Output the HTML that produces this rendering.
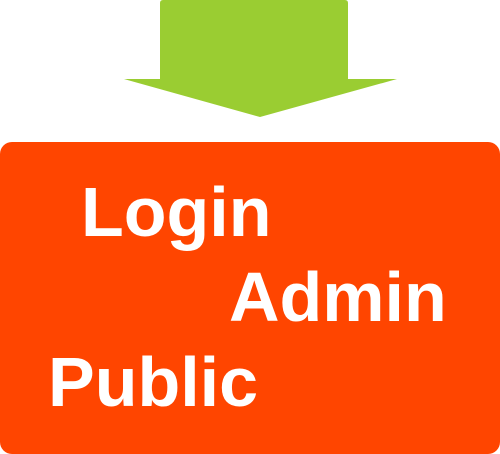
<!DOCTYPE html>
<html><head><style>
body{margin:0;width:500px;height:454px;overflow:hidden;background:#fff;position:relative;font-family:"Liberation Sans",sans-serif}
.box{position:absolute;left:0;top:142px;width:500px;height:312px;background:#FF4500;border-radius:12px}
.t{position:absolute;color:#fff;font-weight:bold;font-size:70px;line-height:1;white-space:nowrap}
</style></head><body>
<svg width="500" height="454" style="position:absolute;left:0;top:0">
<path d="M163,0 H345 Q348,0 348,3 V79 H397 L260,117 L124,79 H160 V3 Q160,0 163,0 Z" fill="#9ACD32"/>
</svg>
<div class="box"></div>
<div class="t" style="left:81px;top:177px">Login</div>
<div class="t" style="left:229px;top:262px">Admin</div>
<div class="t" style="left:48px;top:347px">Public</div>
</body></html>
